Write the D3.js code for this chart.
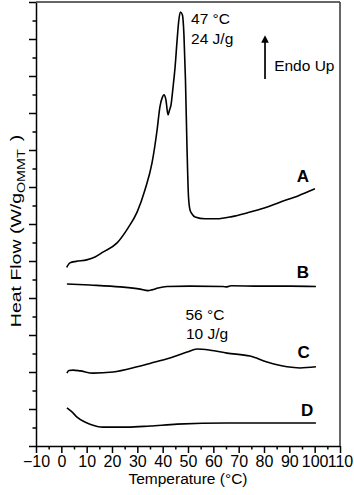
<!DOCTYPE html>
<html>
<head>
<meta charset="utf-8">
<script src="https://cdn.jsdelivr.net/npm/d3@7"></script>
<style>
  body { margin: 0; background: #fff; }
  svg { display: block; font-family: "Liberation Sans", Arial, sans-serif; }
</style>
</head>
<body>
<div id="chart"></div>
<script>
// temperature (°C) and heat flow (arbitrary offset units) for each trace
const tempA = [2.1, 3.4, 5.8, 10.0, 13.3, 16.4, 22.0, 26.3, 29.9, 33.0, 35.8, 37.8, 38.9, 39.9, 40.5, 41.3, 42.1, 42.7, 43.3, 44.1, 44.9, 45.7, 46.3, 47.0, 47.8, 48.4, 49.0, 49.6, 50.2, 50.8, 51.6, 52.8, 56.7, 61.4, 67.4, 73.3, 80.4, 86.3, 93.4, 100.1];
const flowA = [4.83, 4.95, 4.99, 5.03, 5.11, 5.24, 5.49, 5.89, 6.32, 6.92, 7.65, 8.54, 9.16, 9.43, 9.49, 9.35, 8.95, 9.08, 9.22, 9.70, 10.24, 10.97, 11.46, 11.73, 11.65, 11.11, 9.89, 8.08, 6.73, 6.38, 6.27, 6.19, 6.14, 6.14, 6.20, 6.30, 6.44, 6.59, 6.76, 6.95];

const tempB = [2.2, 11.3, 23.2, 31.1, 34.2, 35.8, 38.2, 41.7, 50.8, 63.8, 65.4, 67.0, 78.4, 90.3, 100.5];
const flowB = [4.38, 4.35, 4.30, 4.24, 4.20, 4.22, 4.27, 4.31, 4.32, 4.31, 4.30, 4.33, 4.32, 4.32, 4.31];

const tempC = [2.2, 3.0, 4.6, 7.4, 12.5, 20.4, 29.9, 37.0, 42.9, 49.6, 53.6, 58.7, 65.4, 74.5, 81.2, 89.1, 94.2, 100.5];
const flowC = [1.97, 2.04, 2.05, 2.03, 1.97, 2.00, 2.14, 2.27, 2.38, 2.54, 2.62, 2.59, 2.51, 2.43, 2.27, 2.14, 2.11, 2.14];

const tempD = [2.2, 4.2, 6.2, 8.9, 11.3, 16.4, 25.9, 35.0, 45.7, 65.4, 85.1, 100.5];
const flowD = [1.03, 0.92, 0.78, 0.66, 0.59, 0.51, 0.51, 0.54, 0.59, 0.62, 0.62, 0.62];

const curveNames = ["A", "B", "C", "D"];
const nameTemp = [95.4, 95.4, 95.6, 97.0];
const nameFlow = [7.14, 4.54, 2.38, 0.81];

const xTicks = [-10, 0, 10, 20, 30, 40, 50, 60, 70, 80, 90, 100, 110];

document.addEventListener('DOMContentLoaded', function() {
    const margin = {top: 2, right: 14, bottom: 49, left: 36},
          width = 354 - margin.left - margin.right,
          height = 495 - margin.top - margin.bottom;

    const svg = d3.select("#chart")
                  .append("svg")
                  .attr("width", 354)
                  .attr("height", 495)
                  .append("g")
                  .attr("transform", `translate(${margin.left},${margin.top})`);

    const x = d3.scaleLinear()
                .domain([-10, 110])
                .range([0, width]);

    const y = d3.scaleLinear()
                .domain([0, 12])
                .range([height, 0]);

    // minor ticks first, then major ticks with labels
    svg.append("g")
       .attr("transform", `translate(0,${height})`)
       .call(d3.axisBottom(x).tickValues(d3.range(-5, 110, 10)).tickSize(3.5).tickSizeOuter(0).tickFormat(""))
       .call(g => g.select(".domain").remove());

    const xAxis = svg.append("g")
       .attr("transform", `translate(0,${height})`)
       .call(d3.axisBottom(x).tickValues(xTicks).tickSize(7).tickSizeOuter(0).tickPadding(3));

    xAxis.selectAll("text")
         .style("font-size", "16px")
         .style("font-family", "'Liberation Sans', Arial, sans-serif")
         .attr("fill", "#000");

    svg.append("g")
       .call(d3.axisLeft(y).tickValues(d3.range(0.5, 12, 1)).tickSize(3.5).tickSizeOuter(0).tickFormat(""))
       .call(g => g.select(".domain").remove());

    svg.append("g")
       .call(d3.axisLeft(y).tickValues(d3.range(0, 13, 1)).tickSize(7).tickSizeOuter(0).tickFormat(""));

    svg.selectAll(".domain, .tick line")
       .attr("stroke", "#000")
       .attr("stroke-width", 1.5);

    // frame top and right
    svg.append("line")
       .attr("x1", 0).attr("x2", width)
       .attr("y1", 0).attr("y2", 0)
       .attr("stroke", "#333")
       .attr("stroke-width", 1.5);

    svg.append("line")
       .attr("x1", width).attr("x2", width)
       .attr("y1", 0).attr("y2", height)
       .attr("stroke", "#333")
       .attr("stroke-width", 1.5);

    const line = d3.line()
                   .x(d => x(d[0]))
                   .y(d => y(d[1]))
                   .curve(d3.curveMonotoneX);

    const traces = [
        d3.zip(tempA, flowA),
        d3.zip(tempB, flowB),
        d3.zip(tempC, flowC),
        d3.zip(tempD, flowD)
    ];

    svg.selectAll(".trace")
       .data(traces)
       .enter()
       .append("path")
       .attr("class", "trace")
       .attr("fill", "none")
       .attr("stroke", "#000")
       .attr("stroke-width", 1.6)
       .attr("d", line);

    svg.selectAll(".name")
       .data(curveNames)
       .enter()
       .append("text")
       .attr("class", "name")
       .attr("x", (d, i) => x(nameTemp[i]))
       .attr("y", (d, i) => y(nameFlow[i]))
       .attr("text-anchor", "middle")
       .style("font-size", "17px")
       .style("font-weight", "bold")
       .text(d => d);

    // peak annotations
    const note = (t, v, str, anchor) => svg.append("text")
        .attr("x", x(t))
        .attr("y", y(v))
        .attr("text-anchor", anchor)
        .style("font-size", "15.5px")
        .text(str);

    note(51.2, 11.4, "47 °C", "start");
    note(51.2, 10.86, "24 J/g", "start");
    note(56.7, 3.405, "56 °C", "middle");
    note(57.5, 2.905, "10 J/g", "middle");
    note(84.0, 10.14, "Endo Up", "start");

    // endo up arrow
    svg.append("defs").append("marker")
       .attr("id", "head")
       .attr("viewBox", "0 0 10 10")
       .attr("refX", 5).attr("refY", 5)
       .attr("markerWidth", 4.5).attr("markerHeight", 5)
       .attr("markerUnits", "strokeWidth")
       .attr("orient", "auto")
       .append("path")
       .attr("d", "M0,0 L10,5 L0,10 z")
       .attr("fill", "#000");

    svg.append("line")
       .attr("x1", x(80.4)).attr("x2", x(80.4))
       .attr("y1", y(9.92)).attr("y2", y(11.0))
       .attr("stroke", "#000")
       .attr("stroke-width", 1.7)
       .attr("marker-end", "url(#head)");

    // axis titles
    svg.append("text")
       .attr("x", width / 2)
       .attr("y", height + 38)
       .attr("text-anchor", "middle")
       .style("font-size", "15.5px")
       .text("Temperature (°C)");

    const yTitle = svg.append("text")
       .attr("transform", `translate(${21 - margin.left},${231 - margin.top}) rotate(-90) scale(1.3,1)`)
       .attr("text-anchor", "middle")
       .style("font-size", "15px");

    yTitle.append("tspan").text("Heat Flow (W/g");
    yTitle.append("tspan").attr("dy", 4).style("font-size", "11px").text("OMMT");
    yTitle.append("tspan").attr("dy", -4).attr("dx", 2).text(" )");
});
</script>
</body>
</html>
